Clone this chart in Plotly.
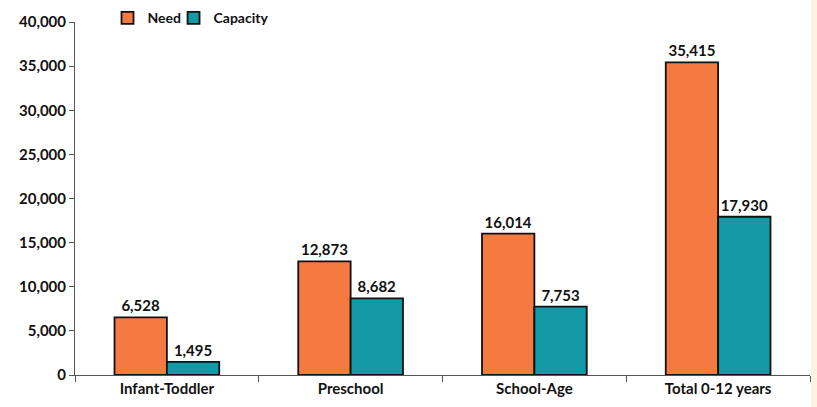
import plotly.graph_objects as go

categories = ["Infant-Toddler", "Preschool", "School-Age", "Total 0-12 years"]
need = [6528, 12873, 16014, 35415]
capacity = [1495, 8682, 7753, 17930]
y_ticks = [0, 5000, 10000, 15000, 20000, 25000, 30000, 35000, 40000]

FONT = "Lato"
ORANGE = "#F57A42"
TEAL = "#1399A6"
BOLD = dict(family=FONT, size=15, color="#111111", weight="bold")
LEG_FONT = dict(family=FONT, size=14, color="#111111", weight="bold")

fig = go.Figure()
fig.add_trace(go.Bar(
    x=categories, y=need, name="Need", legend="legend",
    marker=dict(color=ORANGE, line=dict(color="#111111", width=1.8)),
    text=[f"{v:,}" for v in need], textposition="outside",
    textfont=BOLD, cliponaxis=False,
))
fig.add_trace(go.Bar(
    x=categories, y=capacity, name="Capacity", legend="legend2",
    marker=dict(color=TEAL, line=dict(color="#111111", width=1.8)),
    text=[f"{v:,}" for v in capacity], textposition="outside",
    textfont=BOLD, cliponaxis=False,
))

leg_common = dict(orientation="h", xref="container", yref="container",
                  xanchor="left", y=0.955, yanchor="middle",
                  font=LEG_FONT, itemwidth=30, bgcolor="rgba(0,0,0,0)")

fig.update_layout(
    width=817, height=407,
    margin=dict(l=75, r=7, t=22, b=32, autoexpand=False),
    paper_bgcolor="white", plot_bgcolor="white",
    barmode="group", bargap=0.43, bargroupgap=0,
    font=BOLD,
    showlegend=True,
    legend=dict(x=0.1316, **leg_common),
    legend2=dict(x=0.2124, **leg_common),
    shapes=[dict(type="rect", xref="paper", yref="paper",
                 x0=1.0015, x1=1.03, y0=-0.2, y1=1.2,
                 fillcolor="#FDF3E0", line=dict(width=0), layer="above")],
)
fig.update_xaxes(
    showline=True, linecolor="#555555", linewidth=1,
    ticks="outside", tickson="boundaries", ticklen=6, tickcolor="#555555",
    tickfont=BOLD, showgrid=False,
)
fig.update_yaxes(
    range=[0, 40000], tickvals=y_ticks, tickformat=",",
    showline=True, linecolor="#555555", linewidth=1,
    ticks="outside", ticklen=5, tickcolor="#555555",
    tickfont=BOLD, showgrid=False, zeroline=False,
)

fig.write_html("out.html")
